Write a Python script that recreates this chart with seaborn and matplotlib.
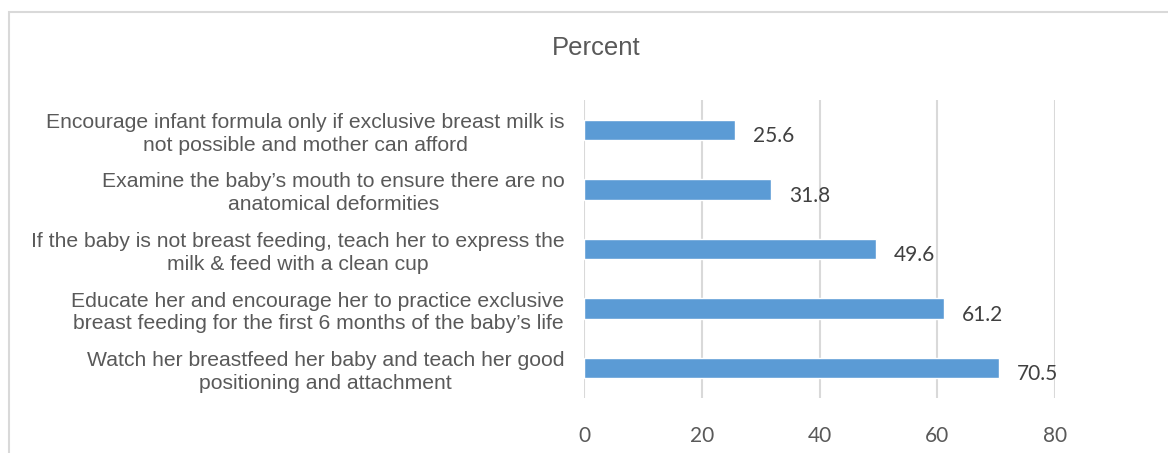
import matplotlib
matplotlib.use("Agg")
import matplotlib.pyplot as plt
import seaborn as sns
import pandas as pd
from matplotlib.patches import Rectangle

categories = [
    "Encourage infant formula only if exclusive breast milk is\nnot possible and mother can afford",
    "Examine the baby\u2019s mouth to ensure there are no\nanatomical deformities",
    "If the baby is not breast feeding, teach her to express the\nmilk & feed with a clean cup",
    "Educate her and encourage her to practice exclusive\nbreast feeding for the first 6 months of the baby\u2019s life",
    "Watch her breastfeed her baby and teach her good\npositioning and attachment",
]
percent = [25.6, 31.8, 49.6, 61.2, 70.5]
x_ticks = [0, 20, 40, 60, 80]
title = "Percent"

df = pd.DataFrame({"category": categories, "percent": percent})

sns.set_theme(style="white")
plt.rcParams["font.family"] = ["Liberation Sans", "DejaVu Sans"]

W, H = 1168, 453
fig = plt.figure(figsize=(W / 100, H / 100), dpi=100)
fig.patch.set_facecolor("white")

# chart border (light grey frame)
fig.patches.append(Rectangle((9 / W, -0.05), 1.1, 1 - 12 / H + 0.05,
                             transform=fig.transFigure, fill=False,
                             edgecolor="#d9d9d9", linewidth=1.5))

ax = fig.add_axes([584 / W, 1 - 398 / H, (1055 - 584) / W, (398 - 100) / H])
sns.barplot(data=df, x="percent", y="category", orient="h", color="#5b9bd5",
            saturation=1, width=0.34, ax=ax)

ax.set_xlim(0, 80)
ax.set_ylim(4.5, -0.5)
ax.set_xticks(x_ticks)
ax.set_xticklabels([str(t) for t in x_ticks], fontfamily="Lato", fontsize=15,
                   color="#595959")
ax.tick_params(axis="x", length=0, pad=20)
ax.tick_params(axis="y", length=0, pad=14)
for lbl in ax.get_yticklabels():
    lbl.set_fontsize(15.2)
    lbl.set_color("#595959")
    lbl.set_multialignment("center")
    lbl.set_linespacing(1.25)
ax.set_xlabel("")
ax.set_ylabel("")
for s in ax.spines.values():
    s.set_visible(False)
ax.grid(axis="x", color="#d9d9d9", linewidth=1.5)
ax.set_axisbelow(True)

for i, v in enumerate(percent):
    ax.annotate(f"{v}", xy=(v, i), xytext=(13, -4.5), textcoords="offset points",
                ha="left", va="center", fontfamily="Lato", fontsize=15,
                color="#404040")

fig.text(596 / W, 1 - 48 / H, title, ha="center", va="center",
         fontsize=18.5, color="#595959")

fig.savefig("out.png", dpi=100, facecolor="white")
